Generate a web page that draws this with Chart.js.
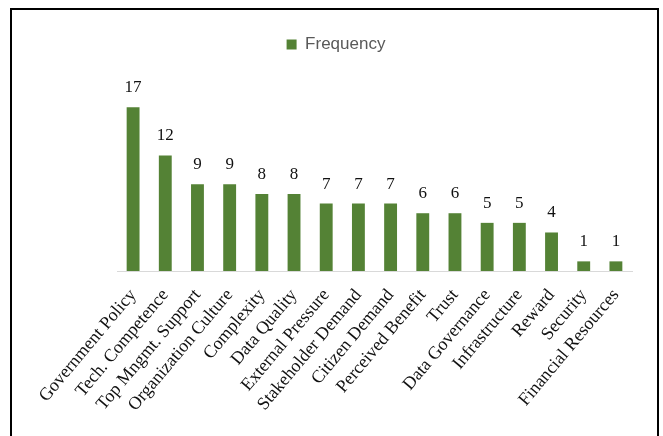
<!DOCTYPE html>
<html>
<head>
<meta charset="utf-8">
<script src="https://cdn.jsdelivr.net/npm/chart.js@4.4.1/dist/chart.umd.min.js"></script>
<style>
    html, body { margin: 0; padding: 0; background: #fff; }
    .wrap { position: relative; width: 663px; height: 436px; }
    .frame {
        position: absolute;
        left: 10px;
        top: 8px;
        width: 645px;
        height: 440px;
        border: 2px solid #000;
        pointer-events: none;
    }
</style>
</head>
<body>
<div class="wrap">
    <canvas id="freqChart" width="663" height="436"></canvas>
    <div class="frame"></div>
</div>
<script>
const categories = [
    'Government Policy',
    'Tech. Competence',
    'Top Mngmt. Support',
    'Organization Culture',
    'Complexity',
    'Data Quality',
    'External Pressure',
    'Stakeholder Demand',
    'Citizen Demand',
    'Perceived Benefit',
    'Trust',
    'Data Governance',
    'Infrastructure',
    'Reward',
    'Security',
    'Financial Resources'
];
const frequency = [17, 12, 9, 9, 8, 8, 7, 7, 7, 6, 6, 5, 5, 4, 1, 1];

const barGreen = '#548235';

// value labels above each bar
const valueLabels = {
    id: 'valueLabels',
    afterDatasetsDraw(chart) {
        const ctx = chart.ctx;
        const meta = chart.getDatasetMeta(0);
        ctx.save();
        ctx.font = '17px "Liberation Serif"';
        ctx.fillStyle = '#111';
        ctx.textAlign = 'center';
        ctx.textBaseline = 'alphabetic';
        meta.data.forEach((bar, i) => {
            ctx.fillText(String(frequency[i]), bar.x, bar.y - 15);
        });
        ctx.restore();
    }
};

new Chart(document.getElementById('freqChart'), {
    type: 'bar',
    data: {
        labels: categories,
        datasets: [{
            label: 'Frequency',
            data: frequency,
            backgroundColor: barGreen,
            borderWidth: 0,
            barPercentage: 0.8,
            categoryPercentage: 0.5
        }]
    },
    options: {
        responsive: false,
        animation: false,
        layout: {
            padding: { left: 40, right: 31, top: 26, bottom: 0 }
        },
        plugins: {
            legend: {
                display: true,
                labels: {
                    boxWidth: 10,
                    boxHeight: 10,
                    color: '#595959',
                    font: { family: '"Liberation Sans"', size: 17 }
                }
            },
            tooltip: { enabled: false }
        },
        scales: {
            x: {
                grid: { display: false },
                border: { display: true, color: '#d9d9d9', width: 1 },
                ticks: {
                    autoSkip: false,
                    minRotation: 50,
                    maxRotation: 50,
                    padding: 6,
                    color: '#111',
                    font: { family: '"Liberation Serif"', size: 18 }
                },
                afterFit: function (scale) {
                    scale.height = 165;
                }
            },
            y: {
                display: true,
                beginAtZero: true,
                max: 21.6,
                grid: { display: false },
                border: { display: false },
                ticks: { display: false },
                afterFit: function (scale) {
                    scale.width = 77;
                }
            }
        }
    },
    plugins: [valueLabels]
});
</script>
</body>
</html>
